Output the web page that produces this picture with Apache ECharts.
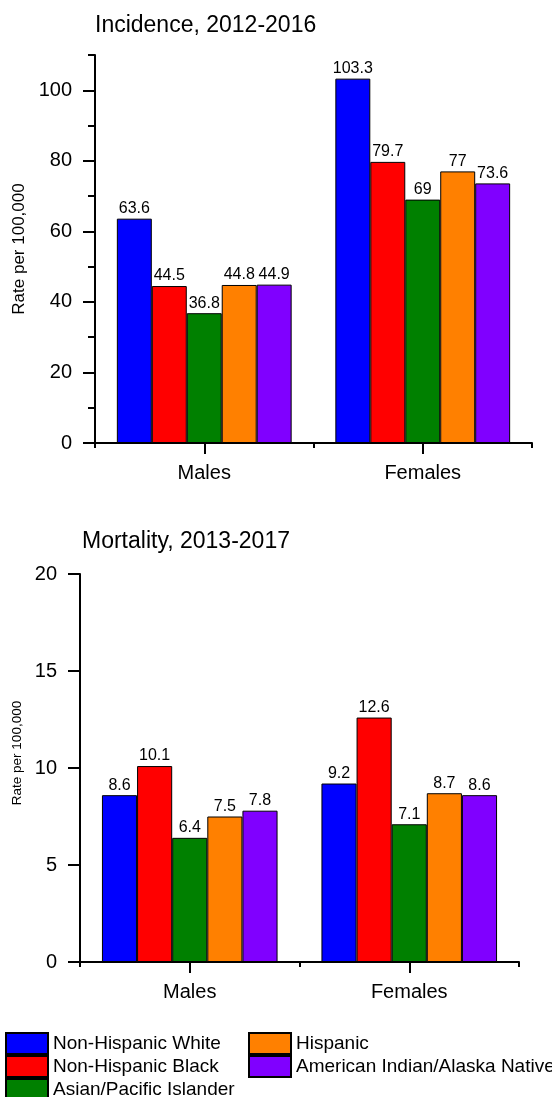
<!DOCTYPE html>
<html>
<head>
<meta charset="utf-8">
<script src="https://cdn.jsdelivr.net/npm/echarts@6/dist/echarts.min.js"></script>
<style>
  html, body { margin: 0; padding: 0; background: #fff; }
  #chart { width: 552px; height: 1097px; }
</style>
</head>
<body>
<div id="chart"></div>
<script>
// Groups on the x axis
const groups = ['Males', 'Females'];

// Race / ethnicity series and their fill colours
const seriesNames = [
  'Non-Hispanic White',
  'Non-Hispanic Black',
  'Asian/Pacific Islander',
  'Hispanic',
  'American Indian/Alaska Native'
];
const seriesColors = ['#0000FF', '#FF0000', '#008000', '#FF8000', '#8000FF'];

// Incidence rates per 100,000, 2012-2016  [Males, Females]
const incWhite    = [63.6, 103.3];
const incBlack    = [44.5, 79.7];
const incAsian    = [36.8, 69];
const incHispanic = [44.8, 77];
const incNative   = [44.9, 73.6];

// Mortality rates per 100,000, 2013-2017  [Males, Females]
const morWhite    = [8.6, 9.2];
const morBlack    = [10.1, 12.6];
const morAsian    = [6.4, 7.1];
const morHispanic = [7.5, 8.7];
const morNative   = [7.8, 8.6];

// Axis ticks
const incTicks = [0, 20, 40, 60, 80, 100];
const incMax = 110;
const morTicks = [0, 5, 10, 15, 20];
const morMax = 20;

const incidence = [incWhite, incBlack, incAsian, incHispanic, incNative];
const mortality = [morWhite, morBlack, morAsian, morHispanic, morNative];

const FONT = "'Liberation Sans', Arial, sans-serif";
const AXIS_LINE = { show: true, lineStyle: { color: '#000', width: 2 } };

function catAxes(gridIndex) {
  return [
    {
      // main category axis: short ticks on category boundaries
      type: 'category', gridIndex, data: groups, position: 'bottom',
      axisLine: AXIS_LINE,
      axisTick: { show: true, alignWithLabel: false, length: 5, interval: 0,
                  lineStyle: { color: '#000', width: 2 } },
      axisLabel: { color: '#000', fontSize: 20, fontFamily: FONT, margin: 20, interval: 0 },
      splitLine: { show: false }
    },
    {
      // longer ticks centred under each group
      type: 'category', gridIndex, data: groups, position: 'bottom',
      axisLine: { show: false },
      axisTick: { show: true, alignWithLabel: true, length: 11, interval: 0,
                  lineStyle: { color: '#000', width: 2 } },
      axisLabel: { show: false },
      splitLine: { show: false }
    }
  ];
}

function barSeries(values, xIdx, yIdx) {
  return values.map((vals, i) => ({
    name: seriesNames[i],
    type: 'bar',
    xAxisIndex: xIdx,
    yAxisIndex: yIdx,
    data: vals,
    barGap: 0,
    barCategoryGap: '20%',
    itemStyle: { color: seriesColors[i], borderColor: '#000', borderWidth: 1 },
    label: {
      show: true, position: 'top', distance: 2,
      color: '#000', fontSize: 16, fontFamily: FONT
    },
    emphasis: { disabled: true },
    animation: false
  }));
}

const legendBase = {
  orient: 'vertical', top: 1032, height: 120, padding: 0,
  itemWidth: 42, itemHeight: 21, itemGap: 0, icon: 'rect', selectedMode: false,
  textStyle: { fontSize: 19, lineHeight: 21, color: '#000', fontFamily: FONT }
};

const option = {
  animation: false,
  textStyle: { fontFamily: FONT },
  title: [
    { text: 'Incidence, 2012-2016', left: 95, top: 14, padding: 0,
      textStyle: { fontSize: 23, fontWeight: 'normal', color: '#000', fontFamily: FONT } },
    { text: 'Mortality, 2013-2017', left: 82, top: 530, padding: 0,
      textStyle: { fontSize: 23, fontWeight: 'normal', color: '#000', fontFamily: FONT } }
  ],
  legend: [
    Object.assign({}, legendBase, { data: seriesNames.slice(0, 3), left: 5 }),
    Object.assign({}, legendBase, { data: seriesNames.slice(3), left: 248 })
  ],
  grid: [
    { left: 95, right: 20, top: 55, height: 388, containLabel: false },
    { left: 80, right: 33, top: 574, height: 388, containLabel: false }
  ],
  xAxis: [...catAxes(0), ...catAxes(1)],
  yAxis: [
    {
      type: 'value', gridIndex: 0, position: 'left', min: 0, max: incMax, interval: 20,
      name: 'Rate per 100,000', nameLocation: 'middle', nameGap: 64,
      nameTextStyle: { fontSize: 17, color: '#000', fontFamily: FONT },
      axisLine: AXIS_LINE,
      axisTick: { show: true, length: 12, customValues: incTicks,
                  lineStyle: { color: '#000', width: 2 } },
      axisLabel: { color: '#000', fontSize: 20, fontFamily: FONT, margin: 23,
                   customValues: incTicks },
      splitLine: { show: false }
    },
    {
      // minor ticks every 10
      type: 'value', gridIndex: 0, position: 'left', offset: 0,
      min: 0, max: incMax, interval: 10,
      axisLine: { show: false },
      axisTick: { show: true, length: 7, lineStyle: { color: '#000', width: 2 } },
      axisLabel: { show: false },
      splitLine: { show: false }
    },
    {
      type: 'value', gridIndex: 1, position: 'left', min: 0, max: morMax, interval: 5,
      name: 'Rate per 100,000', nameLocation: 'middle', nameGap: 55,
      nameTextStyle: { fontSize: 13.5, color: '#000', fontFamily: FONT,
                       padding: [0, 0, 0, 30] },
      axisLine: AXIS_LINE,
      axisTick: { show: true, length: 12, customValues: morTicks,
                  lineStyle: { color: '#000', width: 2 } },
      axisLabel: { color: '#000', fontSize: 20, fontFamily: FONT, margin: 23,
                   customValues: morTicks },
      splitLine: { show: false }
    }
  ],
  series: [
    ...barSeries(incidence, 0, 0),
    ...barSeries(mortality, 2, 2)
  ]
};

const chart = echarts.init(document.getElementById('chart'), null, { renderer: 'canvas' });
chart.setOption(option);
</script>
</body>
</html>
